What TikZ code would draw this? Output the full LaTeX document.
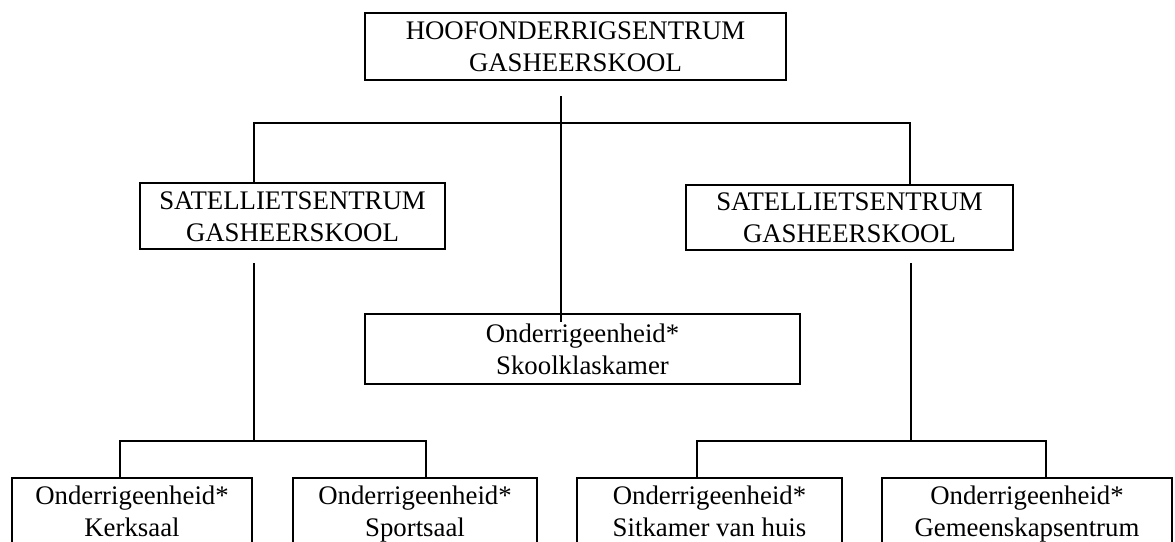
\documentclass[tikz,border=0pt]{standalone}
\usepackage{fontspec}
\setmainfont{Liberation Serif}
\newcommand{\lnstrut}{\rule[-6pt]{0pt}{30pt}}
\begin{document}
\begin{tikzpicture}[x=1pt,y=-1pt,
  boxn/.style={draw, line width=1.2pt, inner sep=0pt, align=center,
    font=\fontsize{26.8}{32}\selectfont},
  link/.style={draw, line width=1.2pt}]
\clip (0,0) rectangle (1175,541);
\fill[white] (0,0) rectangle (1175,541);
% boxes
\node[boxn, minimum width=421pt, minimum height=67pt] (top) at (575.5,46.5)
  {\lnstrut HOOFONDERRIGSENTRUM\\\lnstrut GASHEERSKOOL};
\node[boxn, minimum width=305pt, minimum height=66pt] (lsat) at (292.5,216)
  {\lnstrut SATELLIETSENTRUM\\\lnstrut GASHEERSKOOL};
\node[boxn, minimum width=327pt, minimum height=65pt] (rsat) at (849.5,217.5)
  {\lnstrut SATELLIETSENTRUM\\\lnstrut GASHEERSKOOL};
\node[boxn, minimum width=435pt, minimum height=70pt] (skool) at (582.5,349)
  {\lnstrut Onderrigeenheid*\\\lnstrut Skoolklaskamer};
\node[boxn, minimum width=240pt, minimum height=66pt] (kerk) at (132,511)
  {\lnstrut Onderrigeenheid*\\\lnstrut Kerksaal};
\node[boxn, minimum width=244pt, minimum height=66pt] (sport) at (415,511)
  {\lnstrut Onderrigeenheid*\\\lnstrut Sportsaal};
\node[boxn, minimum width=265pt, minimum height=66pt] (sit) at (709.5,511)
  {\lnstrut Onderrigeenheid*\\\lnstrut Sitkamer van huis};
\node[boxn, minimum width=290pt, minimum height=66pt] (gem) at (1027,511)
  {\lnstrut Onderrigeenheid*\\\lnstrut Gemeenskapsentrum};
% connector points
\coordinate (trunk) at (561,96);
\coordinate (trunkend) at (561,322);
\coordinate (tl) at (254,123);
\coordinate (tr) at (910,123);
\coordinate (ldown) at (254,263);
\coordinate (lb) at (254,441);
\coordinate (lbl) at (120,441);
\coordinate (lbr) at (426,441);
\coordinate (rdown) at (911,263);
\coordinate (rb) at (911,441);
\coordinate (rbl) at (697,441);
\coordinate (rbr) at (1046,441);
% connectors
\draw[link] (trunk) -- (trunkend);
\draw[link] (lsat.north -| tl) -- (tl) -- (tr) -- (rsat.north -| tr);
\draw[link] (ldown) -- (lb);
\draw[link] (kerk.north -| lbl) -- (lbl) -- (lbr) -- (sport.north -| lbr);
\draw[link] (rdown) -- (rb);
\draw[link] (sit.north -| rbl) -- (rbl) -- (rbr) -- (gem.north -| rbr);
\end{tikzpicture}
\end{document}
